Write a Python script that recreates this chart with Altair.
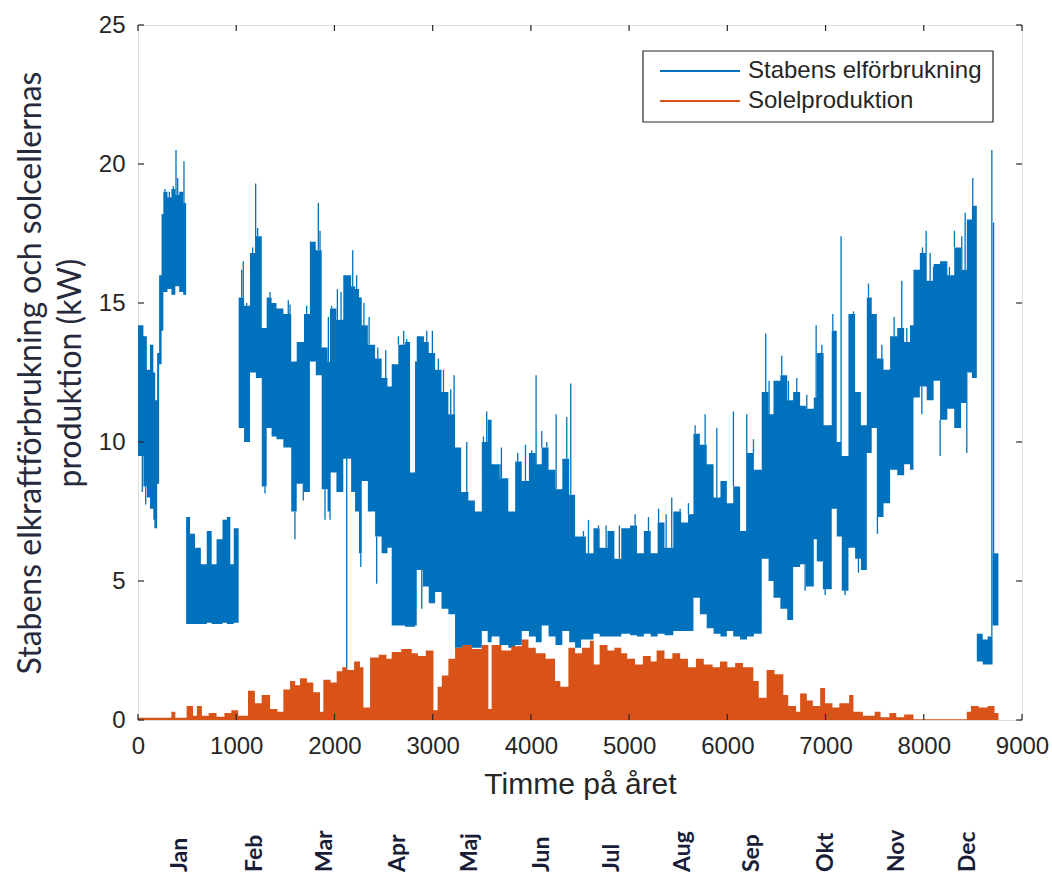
import bisect
import altair as alt
import pandas as pd

BLUE = "#0072BD"
ORANGE = "#D95319"
INK = "#262626"
TITLE_INK = "#262a3c"
FONT = "Liberation Sans"

# ---- consumption (blue): step breakpoints (hour) with daily high / low envelope (kW)
hour_breaks = [
    0, 55, 90, 122, 156, 175, 195, 215, 240, 258,
    300, 340, 380, 420, 460, 490, 530, 580, 640, 700,
    750, 800, 860, 905, 940, 975, 1025, 1080, 1140, 1200,
    1260, 1310, 1360, 1410, 1480, 1560, 1616, 1690, 1750, 1810,
    1870, 1930, 1955, 2020, 2090, 2170, 2210, 2250, 2278, 2340,
    2414, 2480, 2540, 2583, 2650, 2719, 2770, 2820, 2838, 2900,
    2960, 3025, 3090, 3160, 3228, 3290, 3364, 3430, 3500, 3560,
    3600, 3680, 3770, 3840, 3907, 3980, 4050, 4110, 4180, 4250,
    4320, 4390, 4450, 4510, 4560, 4637, 4700, 4780, 4850, 4920,
    5010, 5080, 5150, 5220, 5290, 5360, 5450, 5530, 5600, 5655,
    5720, 5790, 5860, 5930, 5995, 6060, 6130, 6200, 6270, 6350,
    6420, 6470, 6540, 6610, 6670, 6741, 6800, 6880, 6911, 6980,
    7063, 7114, 7165, 7233, 7301, 7360, 7420, 7470, 7522, 7590,
    7657, 7730, 7800, 7860, 7895, 7960, 8030, 8100, 8166, 8240,
    8310, 8380, 8438, 8490, 8540, 8600, 8650, 8700,
]
consumption_high = [
    14.2, 13.8, 12.6, 13.5, 12.5, 11.5, 13.2, 16.0, 18.2, 19.0,
    18.8, 19.1, 18.9, 19.0, 18.6, 7.3, 6.7, 6.2, 5.6, 6.8,
    5.6, 6.5, 7.2, 7.3, 5.6, 6.9, 15.2, 14.9, 16.8, 17.4,
    14.1, 15.2, 15.0, 14.8, 14.6, 12.9, 13.6, 14.6, 17.2, 16.9,
    13.4, 12.9, 14.8, 14.4, 16.0, 15.6, 15.5, 15.2, 14.2, 13.5,
    13.0, 12.3, 12.0, 12.8, 13.5, 13.6, 8.9, 12.9, 13.8, 13.6,
    13.2, 12.6, 11.8, 11.0, 9.8, 8.2, 7.9, 7.5, 10.0, 10.8,
    9.2, 8.7, 7.5, 9.3, 8.6, 9.6, 9.2, 9.8, 9.0, 8.3,
    9.4, 8.1, 6.6, 6.6, 6.0, 6.9, 6.2, 6.8, 5.8, 6.9,
    7.0, 6.0, 6.8, 6.0, 7.1, 6.2, 7.5, 7.1, 7.4, 10.3,
    9.9, 9.2, 8.0, 8.6, 7.8, 8.4, 6.8, 9.6, 9.0, 11.8,
    11.0, 12.2, 12.4, 11.5, 11.8, 11.3, 11.2, 11.6, 13.2, 10.6,
    14.0, 10.0, 9.5, 14.6, 11.8, 10.6, 15.2, 14.6, 13.0, 12.6,
    13.8, 14.1, 13.6, 14.2, 16.2, 16.8, 15.8, 16.4, 16.5, 16.0,
    17.0, 16.2, 18.0, 18.5, 3.1, 2.9, 3.0, 6.0,
]
consumption_low = [
    9.5, 8.4, 8.0, 7.6, 7.2, 6.9, 8.5, 12.8, 14.0, 15.4,
    15.5, 15.3, 15.6, 15.4, 15.3, 3.45, 3.45, 3.45, 3.45, 3.5,
    3.45, 3.45, 3.5, 3.45, 3.45, 3.5, 10.5, 10.0, 12.5, 12.3,
    8.4, 10.5, 10.2, 10.1, 9.8, 7.5, 8.5, 8.2, 12.9, 12.4,
    8.3, 7.5, 8.9, 8.2, 9.4, 8.2, 7.5, 6.0, 8.6, 7.5,
    6.6, 6.0, 6.2, 3.4, 3.4, 3.35, 3.35, 3.4, 5.4, 4.8,
    4.2, 4.6, 4.0, 3.8, 2.6, 2.6, 2.6, 2.6, 3.2, 2.8,
    3.0, 2.7, 2.6, 2.7, 3.2, 3.0, 2.8, 3.4, 3.0, 2.7,
    3.2, 2.8, 2.6, 2.9, 2.9, 3.1, 3.0, 3.0, 3.0, 3.1,
    3.05, 3.0, 3.1, 3.0, 3.1, 3.05, 3.2, 3.2, 3.2, 4.4,
    3.8, 3.3, 3.1, 3.0, 3.2, 3.0, 2.9, 3.0, 3.1, 5.8,
    5.0, 4.4, 4.0, 3.6, 5.5, 5.6, 4.8, 6.5, 5.7, 4.7,
    7.6, 6.6, 4.65, 6.2, 5.8, 5.4, 9.6, 10.5, 7.3, 7.8,
    9.0, 8.8, 9.2, 9.0, 11.6, 12.0, 11.5, 12.2, 10.8, 11.2,
    10.5, 11.4, 12.5, 12.3, 2.1, 2.0, 2.0, 3.4,
]
LAST_HOUR = 8760

# single-hour peaks above the envelope and dips below it
peak_hours = [
    241, 275, 319, 360, 387, 404, 468,
    1055, 1072, 1106, 1167, 1198, 1218, 1344, 1402, 1463, 1530, 1548, 1717,
    1768, 1806, 1836, 1853, 1938, 1972, 2030, 2067, 2186, 2226,
    2261, 2300, 2353, 2441, 2522, 2651, 2705, 2736, 2906, 2940, 2997, 3058,
    3110, 3184, 3218, 3347, 3517, 3550, 3686, 3700, 3866, 3945, 4009, 4053,
    4111, 4162, 4257, 4365, 4406, 4535, 4586, 4688, 4766, 4901, 5061, 5197,
    5300, 5377, 5434, 5519, 5604, 5672, 5774, 5893, 5967, 6062, 6198, 6266,
    6391, 6425, 6554, 6622, 6707, 6809, 6904, 6962, 7074, 7158, 7250, 7284,
    7437, 7461, 7573, 7698, 7776, 7827, 7912, 7949, 7987, 8024, 8065, 8099,
    8116, 8207, 8261, 8312, 8353, 8387, 8421, 8499, 8693, 8710,
]
peak_values = [
    16.0, 19.1, 19.0, 19.2, 20.5, 19.5, 20.1,
    16.2, 16.5, 15.0, 17.0, 19.3, 17.7, 15.4, 14.7, 14.8, 15.1, 14.95, 14.9,
    17.2, 17.1, 18.6, 17.6, 14.5, 14.9, 15.5, 15.4, 16.9, 16.0,
    15.1, 15.0, 14.5, 13.4, 13.3, 13.8, 14.0, 13.7, 13.8, 14.0, 14.0, 13.0,
    12.6, 11.9, 12.4, 10.0, 10.2, 11.1, 9.2, 9.8, 9.6, 9.9, 9.7, 12.4,
    10.4, 10.0, 11.0, 10.9, 12.1, 6.8, 7.2, 7.0, 7.0, 7.0, 7.4, 7.3,
    7.6, 7.4, 8.0, 7.6, 7.8, 10.6, 11.0, 10.5, 8.5, 11.1, 11.0, 10.1,
    13.9, 12.2, 13.1, 12.2, 12.3, 11.7, 14.2, 13.5, 14.6, 17.4, 14.6, 14.7,
    15.7, 14.5, 13.5, 14.5, 15.8, 14.1, 15.8, 16.1, 17.0, 17.6, 16.8, 16.3,
    16.4, 16.4, 16.3, 17.6, 17.0, 17.4, 18.25, 19.5, 20.5, 17.9,
]
dip_hours = [44, 78, 173, 1293, 1598, 1683, 1904, 1955, 2125, 2268, 2430,
             2889, 3194, 6792, 6979, 6996, 7199, 7335, 7528, 7980, 8166, 8438]
dip_values = [8.2, 7.75, 6.9, 8.15, 6.5, 7.9, 7.2, 7.2, 1.7, 5.5, 4.9,
              4.0, 3.8, 4.65, 4.7, 4.5, 4.5, 5.3, 6.7, 11.0, 9.5, 9.6]

# ---- solar production (orange): step breakpoints and daily peak (kW)
solar_hours = [
    0, 340, 380, 495, 560, 600, 650, 720, 800, 880,
    950, 1020, 1120, 1190, 1259, 1344, 1420, 1480, 1548, 1600,
    1650, 1720, 1785, 1853, 1887, 1960, 2023, 2080, 2125, 2200,
    2260, 2295, 2363, 2450, 2530, 2583, 2680, 2787, 2850, 2930,
    3008, 3050, 3093, 3160, 3228, 3300, 3400, 3500, 3567, 3600,
    3700, 3800, 3907, 3975, 4050, 4150, 4246, 4300, 4382, 4450,
    4520, 4600, 4640, 4700, 4780, 4850, 4920, 4980, 5060, 5140,
    5220, 5280, 5360, 5440, 5520, 5600, 5680, 5760, 5850, 5925,
    6000, 6080, 6160, 6265, 6320, 6400, 6480, 6570, 6620, 6700,
    6741, 6809, 6870, 6945, 6995, 7070, 7140, 7240, 7284, 7380,
    7500, 7560, 7650, 7720, 7800, 7895, 8438, 8480, 8560, 8650,
    8720,
]
solar_values = [
    0.08, 0.3, 0.08, 0.5, 0.15, 0.5, 0.15, 0.25, 0.12, 0.25,
    0.35, 0.15, 1.05, 0.6, 0.9, 0.4, 0.3, 1.1, 1.4, 1.25,
    1.5, 1.35, 1.0, 0.3, 1.45, 1.35, 1.75, 1.9, 1.8, 2.1,
    1.9, 0.45, 2.25, 2.35, 2.2, 2.45, 2.55, 2.4, 2.3, 2.5,
    0.35, 1.2, 1.6, 2.2, 2.6, 2.7, 2.55, 2.7, 0.4, 2.7,
    2.5, 2.65, 2.9, 2.6, 2.4, 2.2, 1.4, 1.2, 2.6, 2.4,
    2.6, 2.85, 2.0, 2.7, 2.5, 2.6, 2.4, 2.2, 2.0, 2.3,
    2.1, 2.5, 2.2, 2.4, 2.2, 1.9, 2.2, 2.0, 1.9, 2.1,
    1.9, 2.05, 1.9, 1.4, 0.8, 1.8, 1.65, 0.9, 0.5, 0.3,
    0.95, 0.7, 0.5, 1.15, 0.6, 0.45, 0.6, 0.9, 0.3, 0.15,
    0.3, 0.1, 0.25, 0.1, 0.2, 0.03, 0.3, 0.5, 0.45, 0.5,
    0.25,
]

month_names = ["Jan", "Feb", "Mar", "Apr", "Maj", "Jun",
               "Jul", "Aug", "Sep", "Okt", "Nov", "Dec"]
month_hours = [428, 1191, 1904, 2648, 3381, 4114,
               4827, 5550, 6253, 7006, 7729, 8452]

legend_labels = ["Stabens elförbrukning", "Solelproduktion"]
legend_colors = [BLUE, ORANGE]

x_tick_values = list(range(0, 9001, 1000))
y_tick_values = [0, 5, 10, 15, 20, 25]

W, H = 884, 695
TICK = 6

# ---- tables
band_df = pd.DataFrame({
    "hour": hour_breaks + [LAST_HOUR],
    "high": consumption_high + [consumption_high[-1]],
    "low": consumption_low + [consumption_low[-1]],
})


def seg(h):
    return bisect.bisect_right(hour_breaks, h) - 1


peak_df = pd.DataFrame({
    "hour": peak_hours,
    "top": peak_values,
    "base": [consumption_high[seg(h)] for h in peak_hours],
})
peak_df = peak_df[peak_df["top"] > peak_df["base"]]
dip_df = pd.DataFrame({
    "hour": dip_hours,
    "top": [consumption_low[seg(h)] for h in dip_hours],
    "base": dip_values,
})
dip_df = dip_df[dip_df["base"] < dip_df["top"]]
solar_df = pd.DataFrame({
    "hour": solar_hours + [LAST_HOUR],
    "kw": solar_values + [solar_values[-1]],
})
month_df = pd.DataFrame({"hour": month_hours, "month": month_names})
xt_df = pd.DataFrame({"tick": x_tick_values})
yt_df = pd.DataFrame({"tick": y_tick_values})

xs = alt.Scale(domain=[0, 9000], nice=False, zero=False)
ys = alt.Scale(domain=[0, 25], nice=False)
x_axis = alt.Axis(values=x_tick_values, format="d", tickSize=0, domain=False, grid=False,
                  labelFont=FONT, labelFontSize=24, labelColor=INK, labelPadding=14,
                  labelFlush=False, titleFont=FONT, titleFontSize=30, titleFontWeight="normal",
                  titleColor=INK, titlePadding=11)
y_axis = alt.Axis(values=y_tick_values, tickSize=0, domain=False, grid=False,
                  labelFont=FONT, labelFontSize=24, labelColor=INK, labelPadding=13,
                  titleFont="Lato", titleFontSize=32, titleFontWeight="normal",
                  titleColor=TITLE_INK, titleLineHeight=40, titlePadding=11)
X_TITLE = "Timme på året"
Y_TITLE = ["Stabens elkraftförbrukning och solcellernas", "produktion (kW)"]


def X(field):
    return alt.X(f"{field}:Q", scale=xs, axis=x_axis, title=X_TITLE)


def Y(field):
    return alt.Y(f"{field}:Q", scale=ys, axis=y_axis, title=Y_TITLE)


band = alt.Chart(band_df).mark_area(interpolate="step-after", color=BLUE, opacity=1).encode(
    x=X("hour"), y=Y("high"), y2="low")
peaks = alt.Chart(peak_df).mark_rule(color=BLUE, strokeWidth=1.3).encode(
    x=X("hour"), y=Y("top"), y2="base")
dips = alt.Chart(dip_df).mark_rule(color=BLUE, strokeWidth=1.3).encode(
    x=X("hour"), y=Y("top"), y2="base")
solar = alt.Chart(solar_df).mark_area(interpolate="step-after", color=ORANGE, opacity=1).encode(
    x=X("hour"), y=Y("kw"))

tick_style = dict(color=INK, strokeWidth=1.2)
ticks_bottom = alt.Chart(xt_df).mark_rule(**tick_style).encode(
    x=X("tick"), y=alt.value(H), y2=alt.value(H - TICK))
ticks_top = alt.Chart(xt_df).mark_rule(**tick_style).encode(
    x=X("tick"), y=alt.value(0), y2=alt.value(TICK))
ticks_left = alt.Chart(yt_df).mark_rule(**tick_style).encode(
    y=Y("tick"), x=alt.value(0), x2=alt.value(TICK))
ticks_right = alt.Chart(yt_df).mark_rule(**tick_style).encode(
    y=Y("tick"), x=alt.value(W), x2=alt.value(W - TICK))

months = alt.Chart(month_df).mark_text(
    angle=270, align="left", baseline="middle", font="Lato", fontWeight="bold",
    fontSize=23, color="#1a1d38").encode(
    x=X("hour"), y=alt.value(H + 152), text="month:N")

legend_box = alt.Chart(pd.DataFrame({"k": [0]})).mark_rect(
    fill="white", stroke=INK, strokeWidth=1.2).encode(
    x=alt.value(505), x2=alt.value(855), y=alt.value(26), y2=alt.value(97))
legend_layers = [legend_box]
for i, (lab, col) in enumerate(zip(legend_labels, legend_colors)):
    ldf = pd.DataFrame({"label": [lab]})
    legend_layers.append(alt.Chart(ldf).mark_rule(color=col, strokeWidth=2).encode(
        x=alt.value(522), x2=alt.value(602), y=alt.value(46 + 30 * i)))
    legend_layers.append(alt.Chart(ldf).mark_text(
        align="left", baseline="middle", font=FONT, fontSize=24, color=INK).encode(
        x=alt.value(610), y=alt.value(46 + 30 * i), text="label:N"))

chart = alt.layer(
    band, peaks, dips, solar,
    ticks_bottom, ticks_top, ticks_left, ticks_right,
    months, *legend_layers,
).properties(
    width=W, height=H,
    padding={"left": 138, "top": 25, "right": 30, "bottom": 157},
    autosize=alt.AutoSizeParams(type="none"),
).configure_view(
    stroke=INK, strokeWidth=1.3
).configure(background="white")

chart.save("out.html", embed_options={"renderer": "svg", "actions": False})
